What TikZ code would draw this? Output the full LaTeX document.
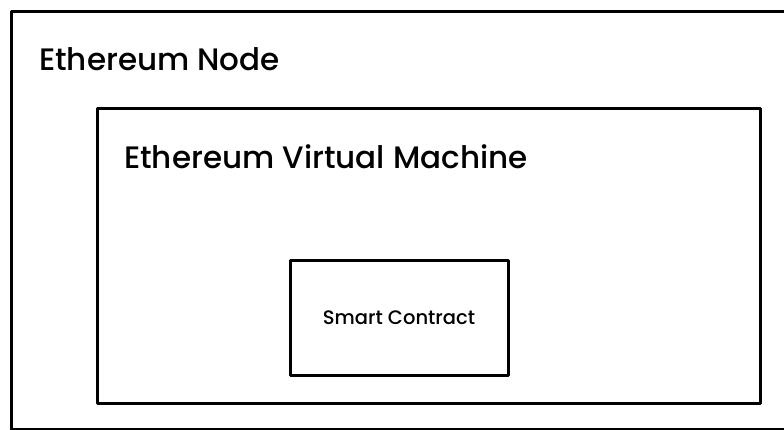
\documentclass[tikz,border=0pt]{standalone}
\usepackage{fontspec}
\setmainfont{Poppins}[UprightFont=* Medium]
\begin{document}
\begin{tikzpicture}[x=1pt,y=-1pt,
  box/.style={draw=black, line width=3pt, line join=round, rectangle, inner sep=0pt, fill=none},
  bigtitle/.style={anchor=base west, inner sep=0pt, font=\fontsize{31}{36}\selectfont},
  smalltitle/.style={anchor=center, inner sep=0pt, font=\fontsize{19.5}{24}\selectfont}]
\useasboundingbox (0,0) rectangle (784,429);
\fill[white] (0,0) rectangle (784,429);
\clip (0,0) rectangle (784,429);
\node[box, minimum width=789pt, minimum height=418.5pt] (ethnode) at (405.5,220.25) {};
\node[box, minimum width=663pt, minimum height=295pt] (evm) at (428.5,255.5) {};
\node[box, minimum width=218pt, minimum height=115pt] (sc) at (399,317.5) {};
\node[bigtitle] (ethnodelabel) at (39,70) {Ethereum Node};
\node[bigtitle] (evmlabel) at (124,168) {Ethereum Virtual Machine};
\node[smalltitle] (sclabel) at (sc.center) {Smart Contract};
\end{tikzpicture}
\end{document}
